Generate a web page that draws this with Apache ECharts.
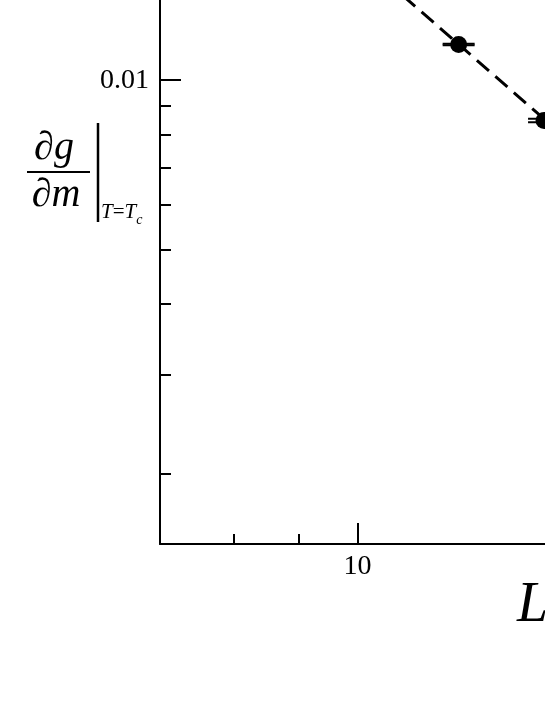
<!DOCTYPE html>
<html>
<head>
<meta charset="utf-8">
<script src="https://cdn.jsdelivr.net/npm/echarts@6/dist/echarts.min.js"></script>
<style>
  html, body { margin: 0; padding: 0; background: #fff; }
  #chart { width: 545px; height: 705px; }
</style>
</head>
<body>
<div id="chart"></div>
<script>
// system size L and dg/dm at T = Tc
const sizeL = [12, 14];
const slope = [0.01157, 0.00848];
const slopeErr = [0.00003, 0.00006];

// dashed power-law fit, end points
const fitL = [10.5, 16];
const fitSlope = [0.01508, 0.00655];

// ticks
const xMajor = [10];
const xMinor = [8, 9];
const yMajor = [0.01];
const yMinor = [0.002, 0.003, 0.004, 0.005, 0.006, 0.007, 0.008, 0.009];

const serif = `"Liberation Serif", "DejaVu Serif", serif`;
const black = `#000`;

const chart = echarts.init(document.getElementById(`chart`));

function xAxisOf(values, len, showLine, showLabel) {
  return {
    type: `log`,
    min: 7,
    max: 14.024,
    position: `bottom`,
    axisLine: { show: showLine, lineStyle: { color: black, width: 2 } },
    axisTick: { inside: true, length: len, lineStyle: { color: black, width: 2 }, customValues: values },
    axisLabel: {
      show: showLabel, customValues: values, margin: 9,
      fontFamily: serif, fontSize: 28, color: black,
      formatter: v => String(Math.round(v))
    },
    splitLine: { show: false }
  };
}

function yAxisOf(values, len, showLine, showLabel) {
  return {
    type: `log`,
    min: 0.0015,
    max: 0.01388,
    position: `left`,
    axisLine: { show: showLine, lineStyle: { color: black, width: 2 } },
    axisTick: { inside: true, length: len, lineStyle: { color: black, width: 2 }, customValues: values },
    axisLabel: {
      show: showLabel, customValues: values, margin: 11,
      fontFamily: serif, fontSize: 28, color: black,
      formatter: v => `0.01`
    },
    splitLine: { show: false }
  };
}

const option = {
  backgroundColor: `#fff`,
  animation: false,
  grid: { left: 160, top: 0, right: 0, bottom: 161, containLabel: false, outerBoundsMode: `none` },
  xAxis: [xAxisOf(xMajor, 21, true, true), xAxisOf(xMinor, 10, false, false)],
  yAxis: [yAxisOf(yMajor, 21, true, true), yAxisOf(yMinor, 11, false, false)],
  series: [
    {
      type: `line`,
      data: fitL.map((l, i) => [l, fitSlope[i]]),
      showSymbol: false,
      lineStyle: { color: black, width: 3, type: [16, 8.5] },
      z: 1
    },
    {
      type: `custom`,
      data: sizeL.map((l, i) => [l, slope[i] - slopeErr[i], slope[i] + slopeErr[i]]),
      encode: { x: 0, y: [1, 2] },
      renderItem: function (params, api) {
        const lo = api.coord([api.value(0), api.value(1)]);
        const hi = api.coord([api.value(0), api.value(2)]);
        const w = 16;
        const st = { stroke: black, lineWidth: 2 };
        return {
          type: `group`,
          children: [
            { type: `line`, shape: { x1: lo[0], y1: lo[1], x2: hi[0], y2: hi[1] }, style: st },
            { type: `line`, shape: { x1: lo[0] - w, y1: lo[1], x2: lo[0] + w, y2: lo[1] }, style: st },
            { type: `line`, shape: { x1: hi[0] - w, y1: hi[1], x2: hi[0] + w, y2: hi[1] }, style: st }
          ]
        };
      },
      z: 2
    },
    {
      type: `scatter`,
      data: sizeL.map((l, i) => [l, slope[i]]),
      symbol: `circle`,
      symbolSize: 17,
      clip: false,
      itemStyle: { color: black, opacity: 1 },
      z: 3
    }
  ],
  graphic: [
    // y axis title: dg/dm evaluated at T = Tc
    {
      type: `text`, x: 54, y: 168,
      style: {
        text: `{d|∂}{i|g}`, textAlign: `center`, textVerticalAlign: `bottom`,
        rich: {
          d: { fontFamily: serif, fontSize: 40, fill: black },
          i: { fontFamily: serif, fontSize: 40, fontStyle: `italic`, fill: black }
        }
      }
    },
    {
      type: `line`, shape: { x1: 27, y1: 172, x2: 90, y2: 172 },
      style: { stroke: black, lineWidth: 2 }
    },
    {
      type: `text`, x: 56, y: 215,
      style: {
        text: `{d|∂}{i|m}`, textAlign: `center`, textVerticalAlign: `bottom`,
        rich: {
          d: { fontFamily: serif, fontSize: 40, fill: black },
          i: { fontFamily: serif, fontSize: 40, fontStyle: `italic`, fill: black }
        }
      }
    },
    {
      type: `line`, shape: { x1: 98, y1: 123, x2: 98, y2: 222 },
      style: { stroke: black, lineWidth: 2.5 }
    },
    {
      type: `text`, x: 101, y: 223,
      style: {
        text: `{t|T}{e|=}{t|T}{s|c}`, textAlign: `left`, textVerticalAlign: `bottom`,
        rich: {
          t: { fontFamily: serif, fontSize: 21, fontStyle: `italic`, fill: black },
          e: { fontFamily: serif, fontSize: 21, fill: black },
          s: { fontFamily: serif, fontSize: 14, fontStyle: `italic`, fill: black, verticalAlign: `bottom`, padding: [0, 0, -4, 0] }
        }
      }
    },
    // x axis title
    {
      type: `text`, x: 517, y: 634,
      style: {
        text: `L`, textAlign: `left`, textVerticalAlign: `bottom`,
        fontFamily: serif, fontSize: 56, fontStyle: `italic`, fill: black
      }
    }
  ]
};

option && chart.setOption(option);
</script>
</body>
</html>
